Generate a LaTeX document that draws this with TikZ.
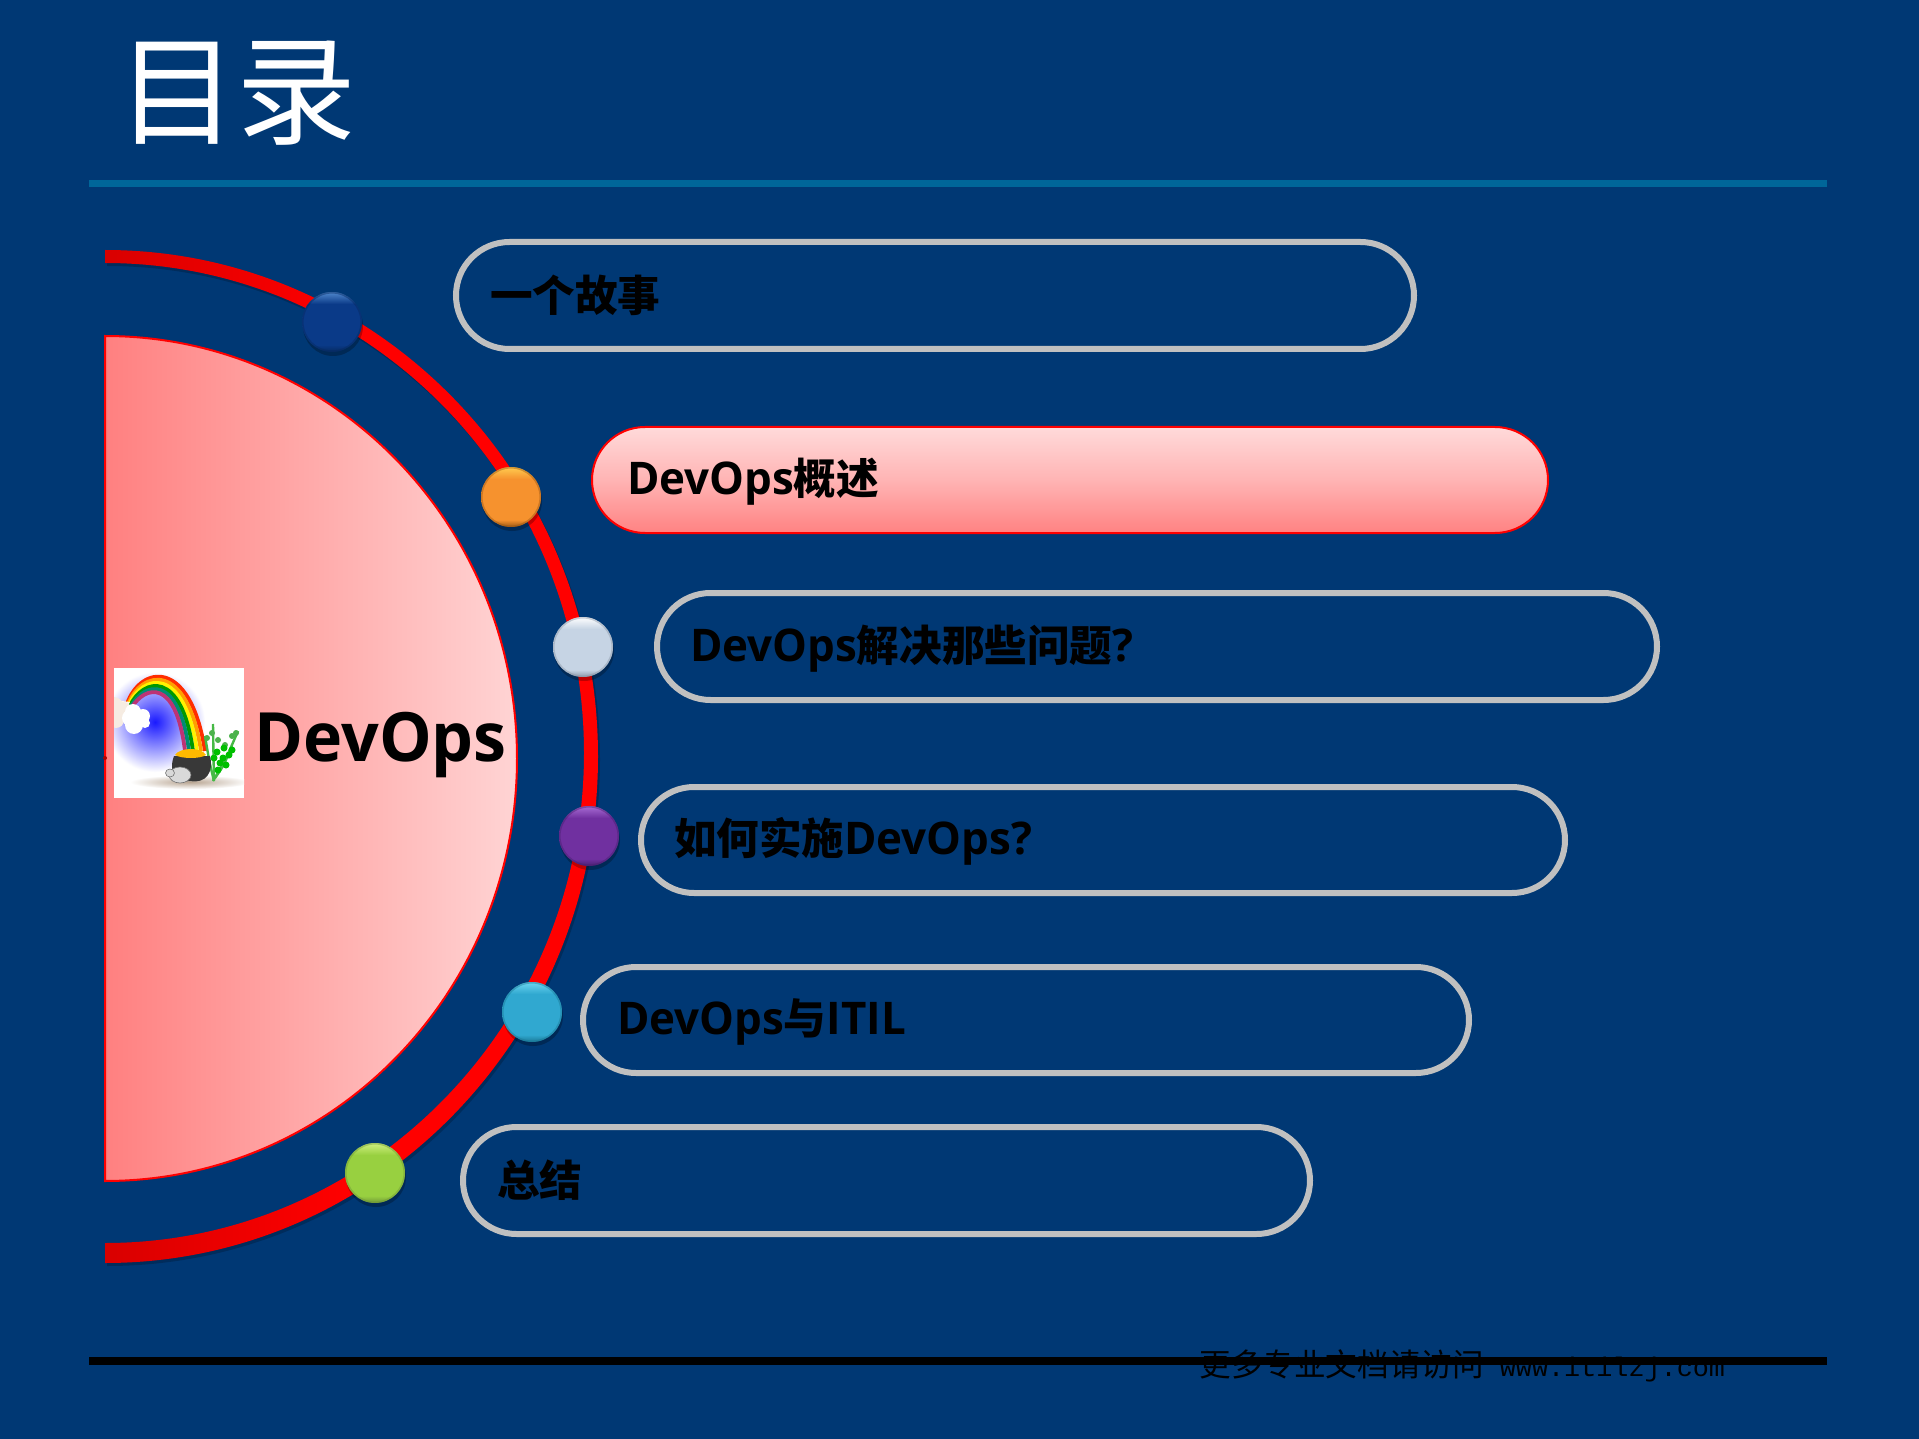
\documentclass[tikz,border=0pt]{standalone}
\usepackage{fontspec}
\setmainfont{Open Sans}[FakeStretch=0.975]
\newfontfamily\cjk{Noto Sans CJK SC}
\newfontfamily\footmono{Liberation Mono}
\usetikzlibrary{shapes.misc,positioning}
\definecolor{bg}{HTML}{003874}
\definecolor{rule}{HTML}{006699}
\definecolor{pillgray}{HTML}{C0C0C0}
\definecolor{hottop}{HTML}{FFDADA}
\definecolor{hotmid}{HTML}{FFB4B4}
\definecolor{hotbot}{HTML}{FF8282}
\definecolor{discl}{HTML}{FF8080}
\definecolor{discr}{HTML}{FFD4D4}
\newcommand{\defball}[4]{%
  \pgfdeclareverticalshading{#1}{100bp}{
    color(0bp)=(#2); color(25bp)=(#2); color(31bp)=(#3); color(65bp)=(#3); color(75bp)=(#4); color(100bp)=(#4)}}
\definecolor{b1d}{HTML}{062A60}\definecolor{b1m}{HTML}{0A3A88}\definecolor{b1l}{HTML}{5088CC}
\definecolor{b2d}{HTML}{9C5814}\definecolor{b2m}{HTML}{F6922E}\definecolor{b2l}{HTML}{FFCC50}
\definecolor{b3d}{HTML}{8C98A8}\definecolor{b3m}{HTML}{C6D4E4}\definecolor{b3l}{HTML}{FFFFFF}
\definecolor{b4d}{HTML}{482070}\definecolor{b4m}{HTML}{7030A0}\definecolor{b4l}{HTML}{A86CD4}
\definecolor{b5d}{HTML}{1A7896}\definecolor{b5m}{HTML}{30A8D0}\definecolor{b5l}{HTML}{6CD6F0}
\definecolor{b6d}{HTML}{709838}\definecolor{b6m}{HTML}{98D040}\definecolor{b6l}{HTML}{D0F080}
\defball{ballA}{b1d}{b1m}{b1l}
\defball{ballB}{b2d}{b2m}{b2l}
\defball{ballC}{b3d}{b3m}{b3l}
\defball{ballD}{b4d}{b4m}{b4l}
\defball{ballE}{b5d}{b5m}{b5l}
\defball{ballF}{b6d}{b6m}{b6l}
\tikzset{
  pill/.style={rounded rectangle,draw=pillgray,line width=3pt,inner sep=0pt,outer sep=0pt,anchor=center},
  pillhot/.style={rounded rectangle,draw=red,line width=1pt,inner sep=0pt,outer sep=0pt,anchor=center,top color=hottop,bottom color=hotbot,middle color=hotmid},
  pilltext/.style={anchor=west,inner sep=0pt,outer sep=0pt,text=black,font=\bfseries\fontsize{22.5}{24}\selectfont},
  ball/.style={circle,minimum size=30pt,inner sep=0pt,outer sep=0pt},
}
\newcommand{\cj}[1]{{\cjk\fontsize{21.3}{24}\selectfont #1}}
\newcommand{\pillat}[6]{% name style x0 x1 y0 y1
  \node[#2,minimum width={(#4-#3)*0.5pt},minimum height={(#6-#5)*0.5pt}] (#1) at ({(#3+#4)/2},{(#5+#6)/2}) {};}
\begin{document}
\begin{tikzpicture}[x=0.5pt,y=-0.5pt]
\useasboundingbox (0,0) rectangle (1919,1439);
\fill[bg] (0,0) rectangle (1919,1439);
% title
\node[anchor=center,text=white,inner sep=0pt,font=\cjk\fontsize{60}{62}\selectfont] (title) at (237,93) {目录};
\fill[rule] (89,180.5) rectangle (1827,187.5);
% ring
\fill[black,opacity=.2,shift={(2,3)}] (105,250) arc[start angle=-90,end angle=90,x radius=493,y radius=506.5] -- (105,1243) arc[start angle=90,end angle=-90,x radius=479,y radius=490] -- cycle;
\shade[left color=red!85!black,right color=red,middle color=red] (105,250) arc[start angle=-90,end angle=90,x radius=493,y radius=506.5] -- (105,1243) arc[start angle=90,end angle=-90,x radius=479,y radius=490] -- cycle;
% half disc
\shade[left color=discl,right color=discr,draw=red,line width=1pt] (105,336) arc[start angle=-90,end angle=90,x radius=412,y radius=422.5] -- cycle;
\fill[red!70!black] (105,758) circle[radius=2];
% picture
\begin{scope}
\clip (114,668) rectangle (244,798);
\fill[white] (114,668) rectangle (244,798);
\shade[inner color=blue!90!white,outer color=white] (155,722) circle[radius=50];
\foreach \c/\t in {red!65!orange/0,orange!75!yellow/.2,yellow/.4,green!60!black/.6,blue!45!green/.8,violet!65!red!80!white/1}
  \draw[\c,line width=1.9pt,line cap=butt] ({127+\t*5},{704+\t*3}) .. controls ({140+\t*5},{666+\t*20}) and ({190-\t*14},{656+\t*21}) .. ({205-\t*20},751);
\fill[white!92!orange] (114,700) -- (130,702) -- (124,712) -- (114,716) -- cycle;
\fill[white!85!brown] (114,706) circle[radius=9] (123,711) circle[radius=9] (116,720) circle[radius=8];
\fill[white] (133,712) circle[radius=8] (143,716) circle[radius=7] (134,725) circle[radius=9] (145,723) circle[radius=5] (130,718) circle[radius=8];
\shade[inner color=brown!60!black!50!white,outer color=white] (190,782) ellipse[x radius=60,y radius=7];
\foreach \a/\b/\e/\f in {213/781/238/731,214/780/213/724,214/781/205/736,215/778/232/746}
  \draw[green!45!gray,line width=1.2pt] (\a,\b) .. controls ({(\a+\e)/2},{(\b+\f)/2+4}) .. (\e,\f);
\foreach \a/\b in {212/733,218/740,232/736,225/745,207/738,236/733}
  \fill[green!40!gray] (\a,\b) circle[radius=3];
\foreach \a/\b in {217/752,223/758,229/755,220/763,226/765,214/758,218/770,224/748,232/750}
  \fill[green!75!black] (\a,\b) circle[radius=3.5];
\fill[black!78!white] (174,756) .. controls (168,772) and (176,784) .. (190,781) .. controls (206,784) and (214,772) .. (210,756) -- cycle;
\fill[orange!55!yellow] (175,755) .. controls (180,747) and (202,747) .. (206,755) .. controls (200,759) and (182,759) .. (175,755) -- cycle;
\fill[white!85!black,draw=black!55!white,line width=.3pt] (180,775) ellipse[x radius=11,y radius=8];
\fill[white!85!black,draw=black!55!white,line width=.3pt] (170,773) ellipse[x radius=4.5,y radius=4];
\end{scope}
\node[anchor=base west,inner sep=0pt,text=black,font=\bfseries\fontsize{34}{36}\selectfont] (devops) at (254,761) {DevOps};
% pills
\pillat{p1}{pill}{456}{1414}{242}{349}
\pillat{p2}{pillhot}{592}{1548}{427}{533}
\pillat{p3}{pill}{657}{1657}{593}{700}
\pillat{p4}{pill}{641}{1565}{787}{893}
\pillat{p5}{pill}{583}{1469}{967}{1073}
\pillat{p6}{pill}{463}{1310}{1127}{1234}
\node[pilltext] (t1) at (490,295) {\cj{一个故事}};
\node[pilltext] (t2) at (627,482) {DevOps\cj{概述}};
\node[pilltext] (t3) at (690,649) {DevOps\cj{解决那些问题}?};
\node[pilltext] (t4) at (674,841) {\cj{如何实施}DevOps?};
\node[pilltext] (t5) at (617,1022) {DevOps\cj{与}ITIL};
\node[pilltext] (t6) at (497,1180) {\cj{总结}};
% balls
\foreach \n/\s/\c/\x/\y in {a/ballA/b1d/332/322,b/ballB/b2d/511/497,c/ballC/b3d/583/647,d/ballD/b4d/589/836,e/ballE/b5d/532/1012,f/ballF/b6d/375/1173}{
  \fill[black,opacity=.25] (\x+1,\y+4) circle[radius=30];
  \node[ball,shading=\s] (\n) at (\x,\y) {};
  \draw[\c,opacity=.45,line width=.8pt] (\x,\y) circle[radius=29.2];
}
% footer
\fill[black] (89,1357) rectangle (1827,1365);
\node[anchor=base west,inner sep=0pt,text=black] (foot) at (1199,1376) {{\cjk\fontsize{15.8}{18}\selectfont 更多专业文档请访问}\footmono\fontsize{13.4}{18}\selectfont\ www.itilzj.com};
\end{tikzpicture}
\end{document}
